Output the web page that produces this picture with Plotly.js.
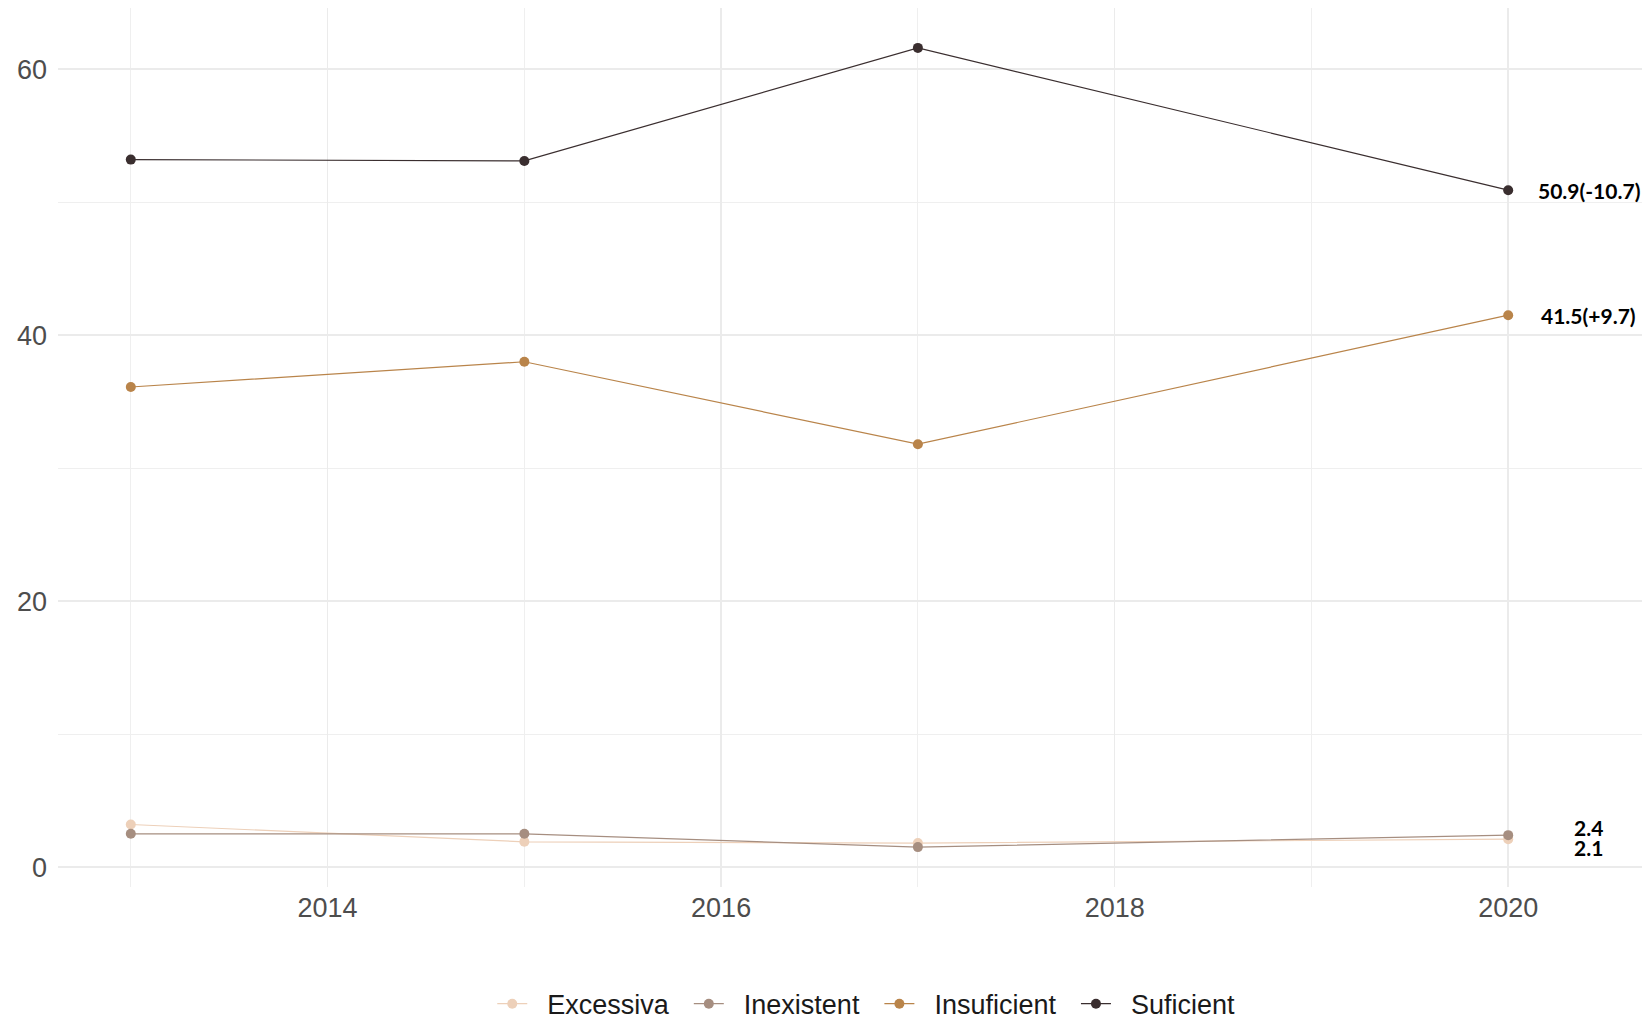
<!DOCTYPE html>
<html>
<head>
<meta charset="utf-8">
<script src="https://cdn.plot.ly/plotly-3.0.1.min.js"></script>
<style>
html,body{margin:0;padding:0;background:#fff;}
#chart{width:1642px;height:1016px;}
</style>
</head>
<body>
<div id="chart"></div>
<script>
const years = [2013, 2015, 2017, 2020];
const seriesNames = ["Excessiva", "Inexistent", "Insuficient", "Suficient"];
const excessiva = [3.2, 1.9, 1.8, 2.1];
const inexistent = [2.5, 2.5, 1.5, 2.4];
const insuficient = [36.1, 38.0, 31.8, 41.5];
const suficient = [53.2, 53.1, 61.6, 50.9];
const seriesColors = ["#EDD0B9", "#A68E80", "#B9844A", "#3A2E2F"];

const allValues = [excessiva, inexistent, insuficient, suficient];

// non-breaking spaces only pad the legend entries (ggplot-like spacing)
const PAD = "\u00A0\u00A0";

const traces = seriesNames.map((name, i) => ({
  type: "scatter",
  mode: "lines+markers",
  name: PAD + name + PAD,
  x: years,
  y: allValues[i],
  line: {color: seriesColors[i], width: 1.2},
  marker: {color: seriesColors[i], size: 10},
  hoverinfo: "x+y"
}));

function fmt(v){ return v.toFixed(1); }
function labelText(vals, withDiff){
  const n = vals.length;
  const last = vals[n-1];
  if(!withDiff) return fmt(last);
  const d = last - vals[n-2];
  return fmt(last) + "(" + (d >= 0 ? "+" : "") + fmt(d) + ")";
}

// label placement (positions only)
const labelX = 2020.41;
const labelYs = [1.5, 2.98, null, null];
const withDiff = [false, false, true, true];

const annotations = seriesNames.map((name, i) => {
  const vals = allValues[i];
  return {
    x: labelX,
    y: labelYs[i] !== null ? labelYs[i] : vals[vals.length-1],
    xref: "x", yref: "y",
    text: labelText(vals, withDiff[i]),
    showarrow: false,
    xanchor: "center", yanchor: "middle",
    font: {family: "Lato, 'Open Sans', sans-serif", size: 21, color: "#000000", weight: "bold"}
  };
});

const layout = {
  width: 1642, height: 1016,
  margin: {l: 58, r: 0, t: 8, b: 129, autoexpand: false},
  paper_bgcolor: "#ffffff",
  plot_bgcolor: "#ffffff",
  font: {family: "'Liberation Sans', Arial, sans-serif", size: 27, color: "#4D4D4D"},
  showlegend: true,
  xaxis: {
    range: [2012.63, 2020.68],
    tick0: 2014, dtick: 2,
    showgrid: true, gridcolor: "#EBEBEB", gridwidth: 1.6,
    zeroline: false, showline: false, ticks: "",
    tickfont: {size: 27, color: "#4D4D4D"},
    ticklabelstandoff: 2,
    minor: {dtick: 1, tick0: 2013, showgrid: true, gridcolor: "#EFEFEF", gridwidth: 1}
  },
  yaxis: {
    range: [-1.5, 64.6],
    tick0: 0, dtick: 20,
    showgrid: true, gridcolor: "#EBEBEB", gridwidth: 1.6,
    zeroline: false, showline: false, ticks: "",
    tickfont: {size: 27, color: "#4D4D4D"},
    ticklabelstandoff: 10,
    minor: {dtick: 10, showgrid: true, gridcolor: "#EFEFEF", gridwidth: 1}
  },
  legend: {
    orientation: "h",
    x: 0.515, xanchor: "center",
    y: -0.1333, yanchor: "middle",
    font: {size: 27, color: "#1A1A1A"},
    traceorder: "normal",
    itemwidth: 30
  },
  annotations: annotations
};

Plotly.newPlot("chart", traces, layout, {displayModeBar: false, staticPlot: true});
</script>
</body>
</html>
